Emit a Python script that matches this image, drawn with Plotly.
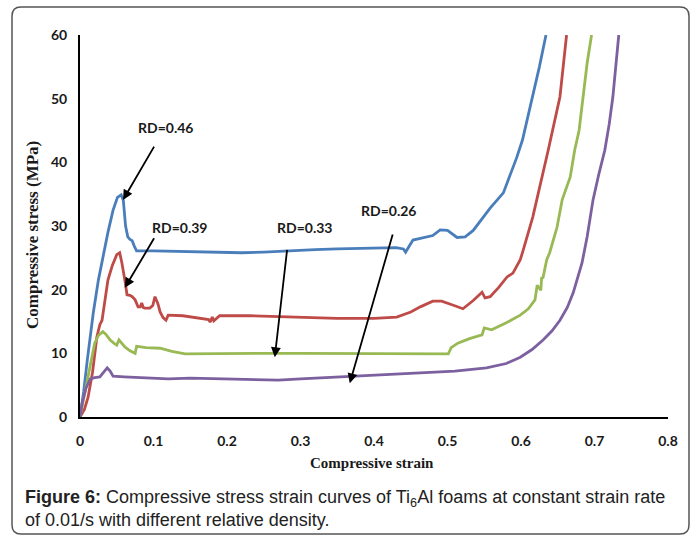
import plotly.graph_objects as go

# ---------------- data ----------------
blue_x = [0, 0.005, 0.010, 0.018, 0.025, 0.031, 0.038, 0.045, 0.051, 0.056, 0.059, 0.062,
          0.065, 0.068, 0.071, 0.074, 0.077, 0.10, 0.15, 0.20, 0.22, 0.25, 0.28, 0.32, 0.35,
          0.40, 0.43, 0.44, 0.443, 0.453, 0.47, 0.48, 0.49, 0.50, 0.513, 0.524, 0.535, 0.544,
          0.558, 0.576, 0.594, 0.602, 0.616, 0.625, 0.634]
blue_y = [0, 4, 9, 16.3, 21.5, 25.1, 29, 32.5, 34.5, 34.9, 34, 30,
          28.3, 27.9, 27.7, 26.8, 26.1, 26.1, 26.0, 25.9, 25.8, 25.9, 26.1, 26.3, 26.4,
          26.5, 26.6, 26.4, 25.9, 27.8, 28.3, 28.5, 29.4, 29.3, 28.2, 28.3, 29.3, 30.7,
          32.8, 35.2, 40.7, 43.5, 50.3, 55, 60]

red_x = [0, 0.006, 0.011, 0.017, 0.023, 0.027, 0.030, 0.034, 0.038, 0.044, 0.050, 0.054,
         0.057, 0.061, 0.064, 0.068, 0.071, 0.075, 0.079, 0.082, 0.084, 0.086, 0.088, 0.095,
         0.099, 0.102, 0.106, 0.109, 0.113, 0.117, 0.12, 0.14, 0.16, 0.175, 0.177, 0.18,
         0.182, 0.19, 0.23, 0.27, 0.30, 0.35, 0.40, 0.431, 0.45, 0.463, 0.480, 0.492, 0.507,
         0.521, 0.535, 0.547, 0.551, 0.558, 0.570, 0.581, 0.589, 0.599, 0.603, 0.616, 0.637,
         0.653, 0.662]
red_y = [0, 1.2, 3.1, 7, 12.6, 14.5, 15.2, 18, 21.5, 23.8, 25.5, 25.8,
         24.2, 21.5, 19.2, 19.1, 18.9, 18.4, 17.3, 17.3, 17.9, 17.2, 17.1, 17.1,
         17.5, 18.9, 17.8, 16.5, 15.6, 15.2, 16.0, 15.9, 15.6, 15.3, 14.9, 15.7,
         15.1, 15.9, 15.9, 15.8, 15.7, 15.5, 15.5, 15.7, 16.5, 17.3, 18.2, 18.2, 17.6,
         17.0, 18.3, 19.6, 18.7, 18.9, 20.4, 22.0, 22.6, 24.7, 26.2, 31.4, 41.9,
         50.3, 60]

green_x = [0, 0.005, 0.010, 0.014, 0.020, 0.025, 0.031, 0.035, 0.041, 0.046, 0.050, 0.053,
           0.057, 0.061, 0.068, 0.075, 0.077, 0.09, 0.109, 0.125, 0.143, 0.20, 0.25, 0.30,
           0.35, 0.40, 0.45, 0.501, 0.505, 0.514, 0.53, 0.547, 0.550, 0.560, 0.580, 0.599,
           0.610, 0.619, 0.622, 0.627, 0.628, 0.630, 0.635, 0.639, 0.649, 0.656, 0.667,
           0.673, 0.679, 0.684, 0.690, 0.696]
green_y = [0, 3, 6, 7.9, 11.6, 12.8, 13.4, 13.0, 12.1, 11.6, 11.3, 12.1,
           11.5, 11.0, 10.4, 10.0, 11.1, 10.9, 10.8, 10.3, 9.9, 10.0, 10.0, 10.0,
           10.0, 10.0, 10.0, 9.9, 10.9, 11.6, 12.3, 12.9, 14.0, 13.7, 14.8, 16.0,
           17.0, 18.4, 20.7, 19.9, 21.8, 21.9, 24.7, 25.8, 29.8, 34.1, 37.7,
           41.9, 45.0, 50.3, 55.6, 60]

purple_x = [0, 0.003, 0.008, 0.014, 0.020, 0.027, 0.032, 0.037, 0.041, 0.045, 0.06, 0.08,
            0.10, 0.12, 0.15, 0.20, 0.25, 0.27, 0.30, 0.35, 0.40, 0.463, 0.51, 0.553, 0.58,
            0.599, 0.615, 0.630, 0.642, 0.653, 0.663, 0.671, 0.683, 0.690, 0.698, 0.706,
            0.714, 0.720, 0.725, 0.733]
purple_y = [0, 2.2, 4.5, 6.0, 6.2, 6.3, 7.0, 7.7, 7.2, 6.4, 6.3, 6.2,
            6.2, 6.0, 6.1, 6.0, 5.9, 5.8, 6.0, 6.3, 6.5, 6.9, 7.2, 7.7, 8.4,
            9.4, 10.6, 12.1, 13.5, 15.2, 17.2, 19.5, 24.2, 28.3, 34.1, 38.2,
            41.9, 46.0, 50.3, 60]

series_names = ["RD=0.46", "RD=0.39", "RD=0.33", "RD=0.26"]
series_x = [blue_x, red_x, green_x, purple_x]
series_y = [blue_y, red_y, green_y, purple_y]
colors = ["#4a7ebb", "#be4b48", "#98b954", "#7d60a0"]

# label text positions and arrow (tail -> head) in data units
label_x = [0.116, 0.135, 0.305, 0.420]
label_y = [45.4, 29.7, 29.7, 32.5]
tail_x = [0.102, 0.102, 0.282, 0.426]
tail_y = [42.7, 28.3, 26.5, 28.9]
head_x = [0.0585, 0.061, 0.265, 0.367]
head_y = [34.1, 20.3, 9.4, 5.3]

x_ticks = [0, 0.1, 0.2, 0.3, 0.4, 0.5, 0.6, 0.7, 0.8]
x_tick_text = ["0", "0.1", "0.2", "0.3", "0.4", "0.5", "0.6", "0.7", "0.8"]
y_ticks = [0, 10, 20, 30, 40, 50, 60]

# ---------------- figure ----------------
W, H = 697, 536
L, R, T, B = 80, 29, 35, 119
pw, ph = W - L - R, H - T - B


def px(xp):
    return (xp - L) / pw


def py(yp):
    return (H - B - yp) / ph


fig = go.Figure()
for nm, xs, ys, c in zip(series_names, series_x, series_y, colors):
    fig.add_trace(go.Scatter(x=xs, y=ys, mode="lines", name=nm,
                             line=dict(color=c, width=2.8), showlegend=False))

tick_font = dict(family="Lato", size=14, color="#1a1a1a", weight="bold")
fig.update_xaxes(range=[0, 0.8], tickvals=x_ticks, ticktext=x_tick_text,
                 showgrid=False, zeroline=False, showline=True, linecolor="black",
                 linewidth=2, ticks="", tickfont=tick_font, ticklabelstandoff=10)
fig.update_yaxes(range=[0, 60], tickvals=y_ticks, showgrid=False, zeroline=False,
                 showline=True, linecolor="black", linewidth=2, ticks="",
                 tickfont=tick_font, ticklabelstandoff=8)

ann = []
for t, lx, ly, tx, ty, hx, hy in zip(series_names, label_x, label_y, tail_x, tail_y, head_x, head_y):
    ann.append(dict(x=lx, y=ly, xref="x", yref="y", text="<b>%s</b>" % t, showarrow=False,
                    xanchor="center", yanchor="middle",
                    font=dict(family="Lato", size=14, color="#1a1a1a")))
    ann.append(dict(x=hx, y=hy, xref="x", yref="y", ax=tx, ay=ty, axref="x", ayref="y",
                    text="", showarrow=True, arrowhead=2, arrowsize=1.1, arrowwidth=1.8,
                    arrowcolor="black"))

ann.append(dict(x=px(372), y=py(463), xref="paper", yref="paper",
                xanchor="center", yanchor="middle",
                text="<b>Compressive strain</b>", showarrow=False,
                font=dict(family="Liberation Serif", size=15, color="#1a1a1a")))
ann.append(dict(x=px(32), y=py(235), xref="paper", yref="paper", textangle=-90,
                xanchor="center", yanchor="middle",
                text="<b>Compressive stress (MPa)</b>", showarrow=False,
                font=dict(family="Liberation Serif", size=17, color="#1a1a1a")))
ann.append(dict(x=px(23), y=py(508), xref="paper", yref="paper", xanchor="left",
                yanchor="middle", align="left", showarrow=False,
                text="<b>Figure 6:</b> Compressive stress strain curves of Ti<sub>6</sub>Al foams at constant strain rate<br>of 0.01/s with different relative density.",
                font=dict(family="Liberation Sans", size=18, color="#222222")))

# rounded frame
x0, x1, y0, y1, r = 12, 689, 7, 534, 9
path = ("M %f,%f L %f,%f Q %f,%f %f,%f L %f,%f Q %f,%f %f,%f L %f,%f Q %f,%f %f,%f "
        "L %f,%f Q %f,%f %f,%f Z") % (
    px(x0 + r), py(y0), px(x1 - r), py(y0), px(x1), py(y0), px(x1), py(y0 + r),
    px(x1), py(y1 - r), px(x1), py(y1), px(x1 - r), py(y1),
    px(x0 + r), py(y1), px(x0), py(y1), px(x0), py(y1 - r),
    px(x0), py(y0 + r), px(x0), py(y0), px(x0 + r), py(y0))
fig.add_shape(type="path", path=path, xref="paper", yref="paper",
              line=dict(color="#555555", width=1.5), layer="below")

fig.update_layout(width=W, height=H, margin=dict(l=L, r=R, t=T, b=B),
                  paper_bgcolor="white", plot_bgcolor="white", annotations=ann)

fig.write_html("out.html")
